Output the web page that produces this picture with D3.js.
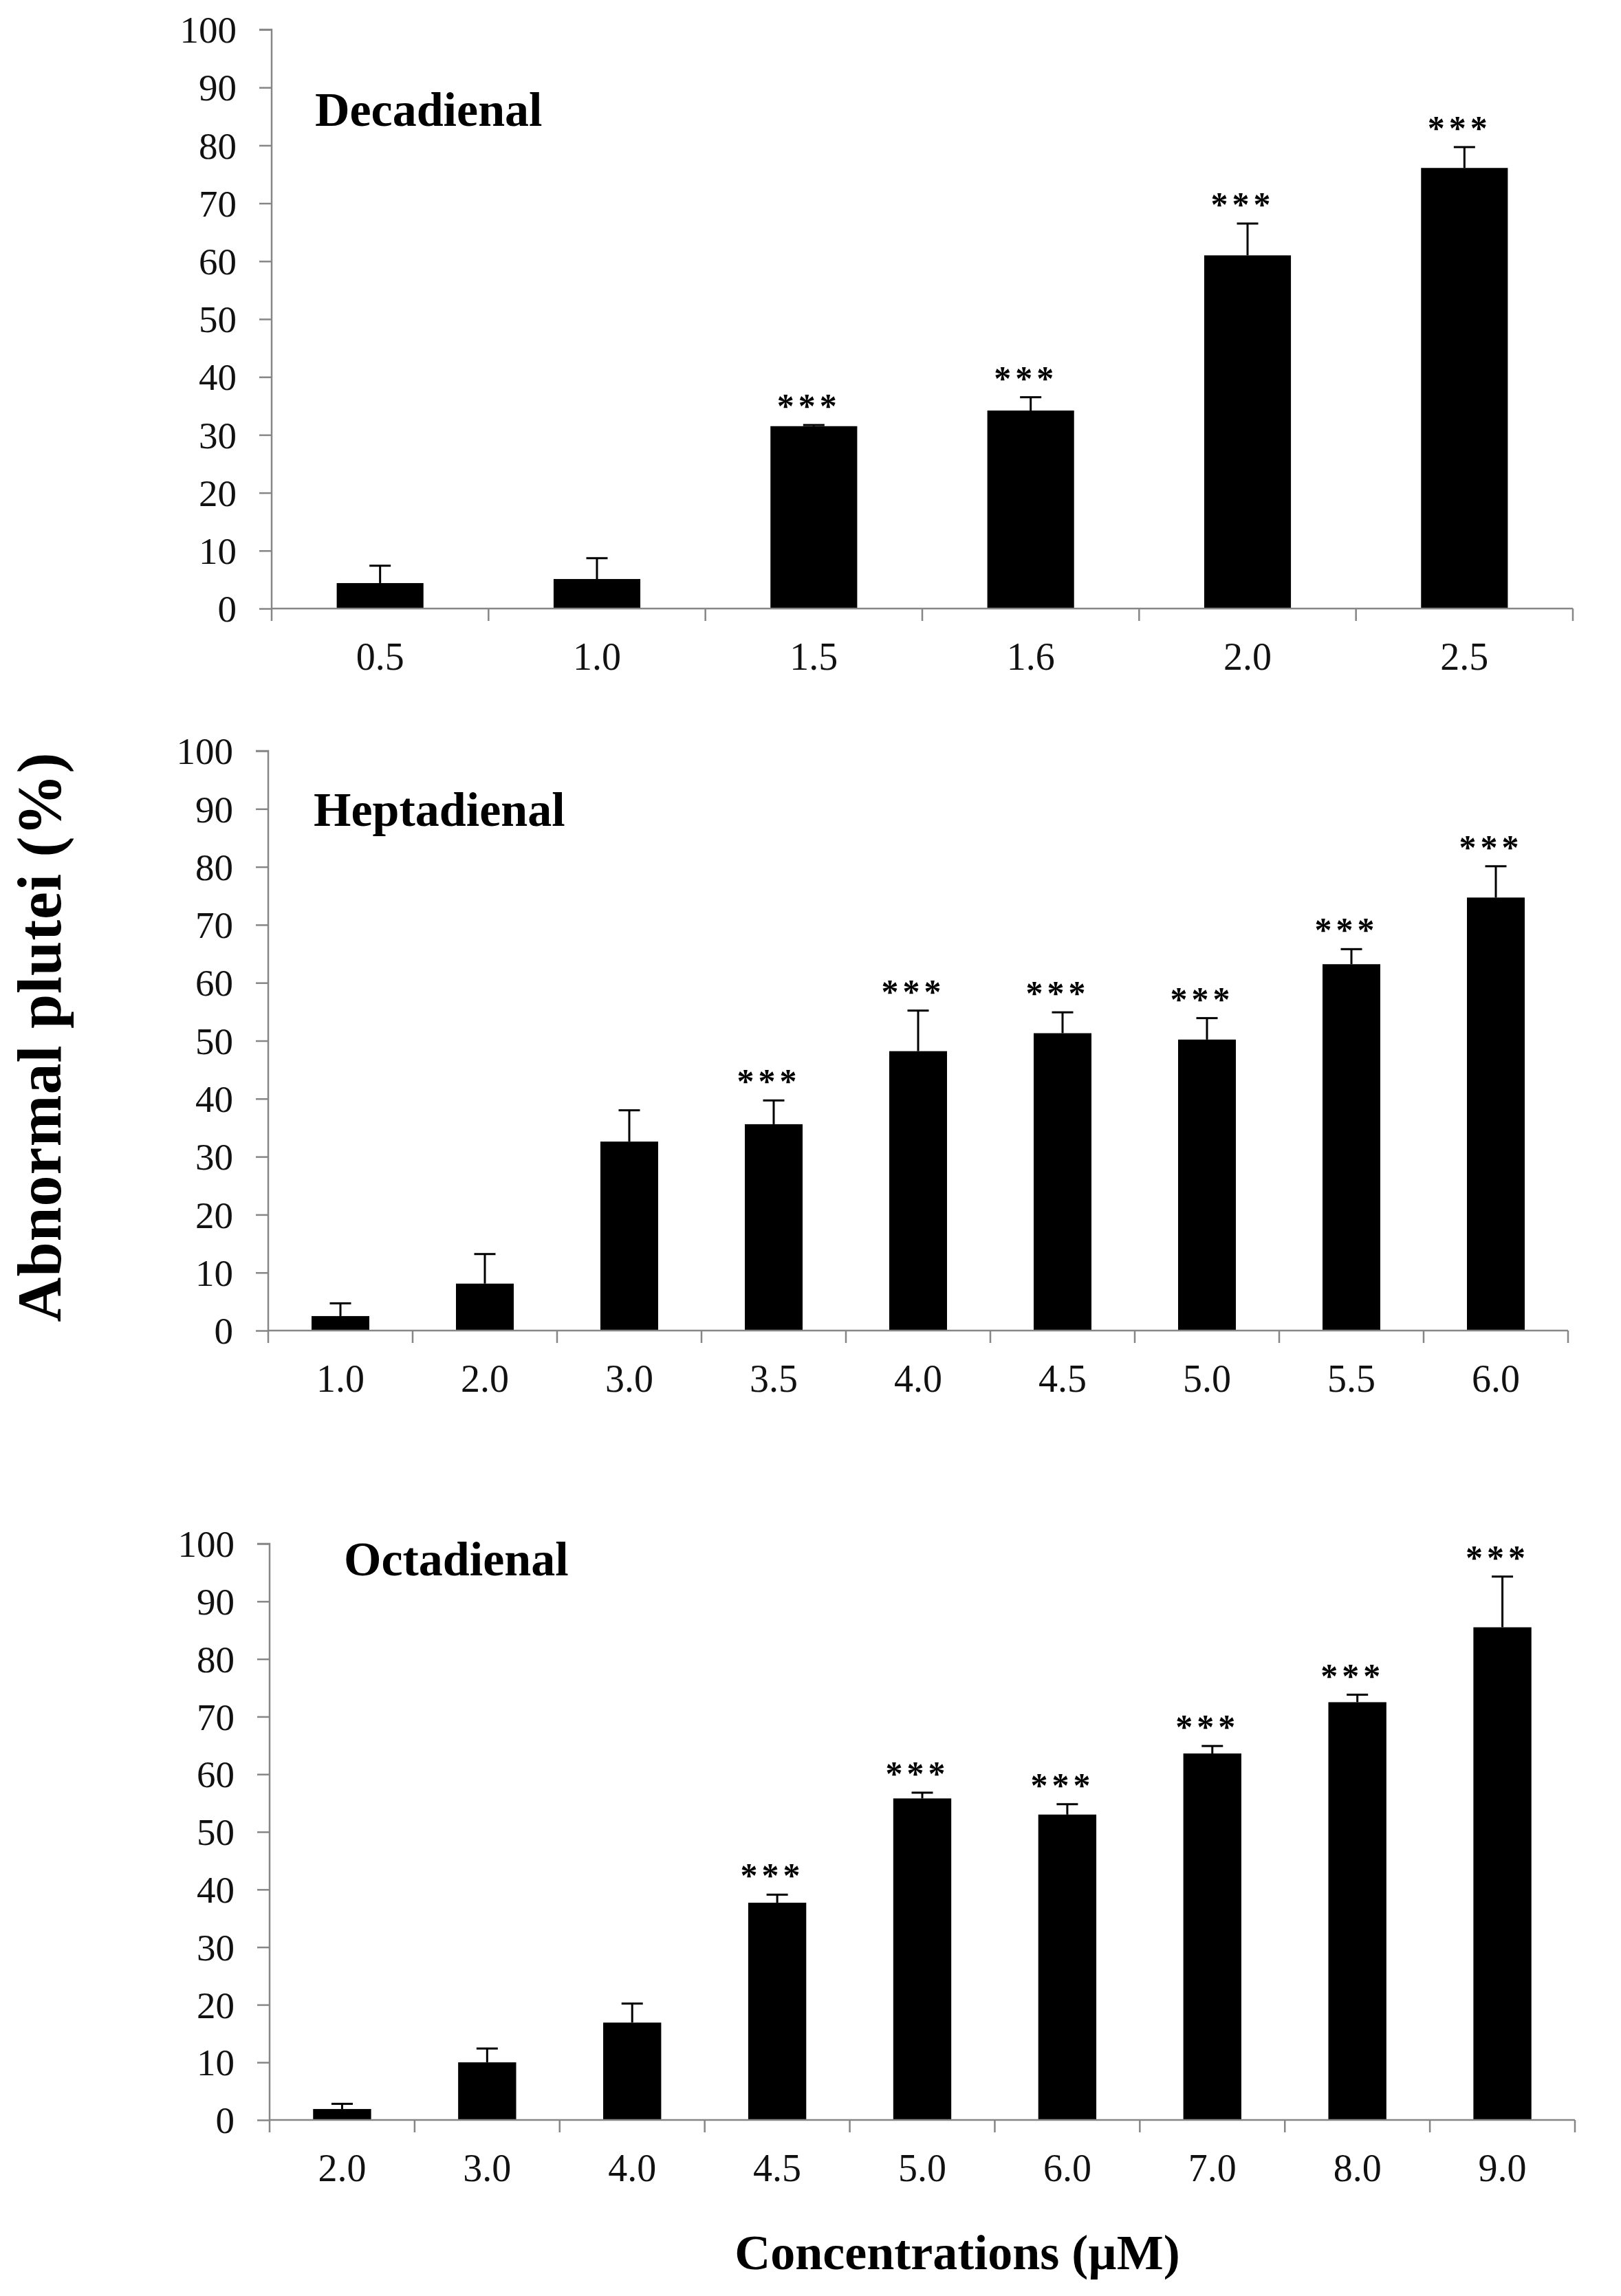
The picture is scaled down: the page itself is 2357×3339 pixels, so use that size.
<!DOCTYPE html>
<html>
<head>
<meta charset="utf-8">
<script src="https://cdn.jsdelivr.net/npm/d3@7"></script>
<style>
  body { margin: 0; background: #fff; }
  text { font-family: "Liberation Serif", "Times New Roman", serif; }
</style>
</head>
<body>
<div id="graph"></div>
<script>
// values (mean, upper error, significance)
const decaConc = ['0.5', '1.0', '1.5', '1.6', '2.0', '2.5'];
const decaMean = [4.4, 5.1, 31.5, 34.2, 61.0, 76.1];
const decaErr = [3.0, 3.6, 0.2, 2.3, 5.5, 3.6];
const decaSig = [false, false, true, true, true, true];

const heptaConc = ['1.0', '2.0', '3.0', '3.5', '4.0', '4.5', '5.0', '5.5', '6.0'];
const heptaMean = [2.5, 8.1, 32.6, 35.6, 48.2, 51.3, 50.2, 63.2, 74.7];
const heptaErr = [2.2, 5.1, 5.4, 4.1, 7.0, 3.6, 3.7, 2.6, 5.4];
const heptaSig = [false, false, false, true, true, true, true, true, true];

const octaConc = ['2.0', '3.0', '4.0', '4.5', '5.0', '6.0', '7.0', '8.0', '9.0'];
const octaMean = [1.9, 10.0, 16.9, 37.7, 55.8, 53.0, 63.6, 72.5, 85.5];
const octaErr = [0.9, 2.4, 3.3, 1.4, 1.0, 1.8, 1.3, 1.3, 8.8];
const octaSig = [false, false, false, true, true, true, true, true, true];

const yTicks = [0, 10, 20, 30, 40, 50, 60, 70, 80, 90, 100];
const yLabel = 'Abnormal plutei (%)';
const xLabel = 'Concentrations (\u00b5M)';

const W = 2357, H = 3339;
const axisColor = '#868686';

let svg = d3.select('#graph').append('svg')
  .attr('width', W)
  .attr('height', H);

let panels = [
  { name: 'Decadienal', conc: decaConc, mean: decaMean, err: decaErr, sig: decaSig,
    x0: 395, x1: 2287, top: 43, bottom: 885, titleX: 458, titleY: 183 },
  { name: 'Heptadienal', conc: heptaConc, mean: heptaMean, err: heptaErr, sig: heptaSig,
    x0: 390, x1: 2280, top: 1092, bottom: 1935, titleX: 456, titleY: 1201 },
  { name: 'Octadienal', conc: octaConc, mean: octaMean, err: octaErr, sig: octaSig,
    x0: 392, x1: 2290, top: 2245, bottom: 3083, titleX: 500, titleY: 2291 }
];

panels.forEach(drawPanel);

function drawPanel(p) {
  let rows = p.conc.map((c, i) => ({ c: c, m: p.mean[i], e: p.err[i], s: p.sig[i] }));

  let xBand = d3.scaleBand().domain(p.conc).range([p.x0, p.x1]);
  let xBar = d3.scaleBand().domain(p.conc).range([p.x0, p.x1])
    .paddingInner(0.6).paddingOuter(0.3);
  let yScale = d3.scaleLinear().domain([0, 100]).range([p.bottom, p.top]);

  let g = svg.append('g');

  // bars
  g.selectAll('rect.bar')
    .data(rows)
    .join('rect')
    .attr('class', 'bar')
    .attr('x', (d) => xBar(d.c))
    .attr('width', xBar.bandwidth())
    .attr('y', (d) => yScale(d.m))
    .attr('height', (d) => yScale(0) - yScale(d.m))
    .attr('fill', '#000');

  // upper error bars
  let cx = (d) => xBar(d.c) + xBar.bandwidth() / 2;
  g.selectAll('line.err')
    .data(rows)
    .join('line')
    .attr('class', 'err')
    .attr('x1', cx).attr('x2', cx)
    .attr('y1', (d) => yScale(d.m))
    .attr('y2', (d) => yScale(d.m + d.e))
    .attr('stroke', '#000')
    .attr('stroke-width', 3);

  g.selectAll('line.cap')
    .data(rows)
    .join('line')
    .attr('class', 'cap')
    .attr('x1', (d) => cx(d) - 15.5).attr('x2', (d) => cx(d) + 15.5)
    .attr('y1', (d) => yScale(d.m + d.e))
    .attr('y2', (d) => yScale(d.m + d.e))
    .attr('stroke', '#000')
    .attr('stroke-width', 3);

  // significance marks, sitting a little left of the bar centre
  g.selectAll('text.sig')
    .data(rows.filter((d) => d.s))
    .join('text')
    .attr('class', 'sig')
    .attr('x', (d) => cx(d) - 7)
    .attr('y', (d) => yScale(d.m + d.e) - 11)
    .attr('text-anchor', 'middle')
    .attr('font-size', 50)
    .attr('font-weight', 'bold')
    .attr('letter-spacing', 6)
    .text('***');

  // y axis
  let yAxis = d3.axisLeft(yScale).tickValues(yTicks).tickSize(18).tickPadding(33);
  let ya = svg.append('g')
    .attr('transform', 'translate(' + p.x0 + ',0)')
    .call(yAxis);
  ya.select('.domain').attr('stroke', axisColor).attr('stroke-width', 2.5)
    .attr('d', 'M0,' + p.bottom + 'V' + p.top + 'H-18');
  ya.selectAll('.tick line').attr('stroke', axisColor).attr('stroke-width', 2.5);
  ya.selectAll('.tick text')
    .attr('font-size', 55)
    .attr('font-family', '"Liberation Serif", "Times New Roman", serif')
    .attr('fill', '#111')
    .attr('dy', '0.34em');

  // x axis: labels at band centres, ticks on band boundaries
  let xAxis = d3.axisBottom(xBand).tickSize(0).tickPadding(49);
  let xa = svg.append('g')
    .attr('transform', 'translate(0,' + p.bottom + ')')
    .call(xAxis);
  xa.select('.domain').attr('stroke', axisColor).attr('stroke-width', 2.5)
    .attr('d', 'M' + p.x0 + ',0H' + p.x1);
  xa.selectAll('.tick text')
    .attr('font-size', 56)
    .attr('font-family', '"Liberation Serif", "Times New Roman", serif')
    .attr('fill', '#111');

  let bounds = p.conc.map((c) => xBand(c)).concat([p.x1]);
  xa.selectAll('line.bound')
    .data(bounds)
    .join('line')
    .attr('class', 'bound')
    .attr('x1', (d) => d).attr('x2', (d) => d)
    .attr('y1', 0).attr('y2', 18)
    .attr('stroke', axisColor)
    .attr('stroke-width', 2.5);

  // panel title
  svg.append('text')
    .attr('x', p.titleX)
    .attr('y', p.titleY)
    .attr('font-size', 70)
    .attr('font-weight', 'bold')
    .text(p.name);
}

// shared axis titles
svg.append('text')
  .attr('transform', 'translate(88,1508) rotate(-90)')
  .attr('text-anchor', 'middle')
  .attr('font-size', 90)
  .attr('font-weight', 'bold')
  .attr('letter-spacing', 1)
  .text(yLabel);

svg.append('text')
  .attr('x', 1392)
  .attr('y', 3300)
  .attr('text-anchor', 'middle')
  .attr('font-size', 72)
  .attr('font-weight', 'bold')
  .text(xLabel);
</script>
</body>
</html>
